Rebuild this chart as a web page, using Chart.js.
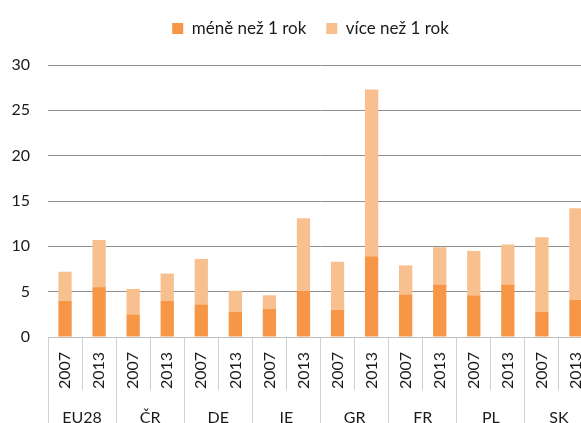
<!DOCTYPE html>
<html><head><meta charset="utf-8">
<script src="https://cdn.jsdelivr.net/npm/chart.js@4"></script>
<style>
html,body{margin:0;padding:0;overflow:hidden;background:#fff;width:581px;height:423px}
#wrap{position:absolute;left:0;top:0;width:600px;height:440px}
</style>
</head><body><div id="wrap"><canvas id="c"></canvas></div>
<script>
const years = ['2007','2013','2007','2013','2007','2013','2007','2013','2007','2013','2007','2013','2007','2013','2007','2013'];
const groups = ['EU28','ČR','DE','IE','GR','FR','PL','SK'];
const lessThan1 = [4.0,5.5,2.5,4.0,3.6,2.8,3.1,5.1,3.0,8.9,4.7,5.8,4.6,5.8,2.8,4.1];
const moreThan1 = [3.2,5.2,2.8,3.0,5.0,2.3,1.5,8.0,5.3,18.4,3.2,4.1,4.9,4.4,8.2,10.1];
const yTicks = [0,5,10,15,20,25,30];

const FONT = 'Lato';
const legendTweak = {
  id: 'legendTweak',
  beforeInit(chart) {
    const l = chart.legend; if (!l) return;
    const fit = l.fit;
    l.fit = function () { fit.call(this); this.height += 18; };
  },
  afterLayout(chart) {
    const l = chart.legend; if (!l) return;
    l.left += 8; l.right += 8;
  }
};

new Chart(document.getElementById('c'), {
  type: 'bar',
  data: {
    labels: years,
    datasets: [
      { label: 'méně než 1 rok', data: lessThan1, backgroundColor: '#F79646', barPercentage: 0.39, categoryPercentage: 1 },
      { label: 'více než 1 rok', data: moreThan1, backgroundColor: '#F9C08F', barPercentage: 0.39, categoryPercentage: 1 }
    ]
  },
  plugins: [legendTweak],
  options: {
    responsive: true,
    maintainAspectRatio: false,
    animation: false,
    layout: { padding: { left: 12, right: 7, top: 0, bottom: 0 } },
    plugins: {
      legend: {
        position: 'top',
        labels: {
          color: '#1a1a1a',
          font: { family: FONT, size: 17 },
          boxWidth: 11, boxHeight: 11,
          padding: 20
        }
      },
      tooltip: { enabled: false }
    },
    scales: {
      x: {
        stacked: true,
        weight: 0,
        offset: true,
        grid: { offset: true, drawOnChartArea: false, tickLength: 53, color: '#d0d0d0' },
        border: { color: '#bfbfbf' },
        ticks: { minRotation: 90, maxRotation: 90, autoSkip: false, padding: -38, color: '#1a1a1a', font: { family: FONT, size: 16 } },
        afterFit(scale) { scale.height = 53; }
      },
      x2: {
        type: 'category',
        labels: groups,
        position: 'bottom',
        weight: 1,
        offset: true,
        grid: { offset: true, drawOnChartArea: false, tickLength: 50, color: '#d0d0d0' },
        border: { display: false },
        ticks: { autoSkip: false, maxRotation: 0, padding: -32, color: '#1a1a1a', font: { family: FONT, size: 16 } },
        afterFit(scale) { scale.height = 50; }
      },
      y: {
        stacked: true,
        min: 0, max: 30,
        afterBuildTicks(scale) { scale.ticks = yTicks.map(v => ({ value: v })); },
        afterFit(scale) { scale.width = 36; },
        grid: { drawTicks: false, color: (ctx) => ctx.tick && ctx.tick.value === 0 ? 'rgba(0,0,0,0)' : '#8f8f8f' },
        border: { display: false },
        ticks: { padding: 18, color: '#1a1a1a', font: { family: FONT, size: 16 } }
      }
    }
  }
});
</script>
</body></html>
